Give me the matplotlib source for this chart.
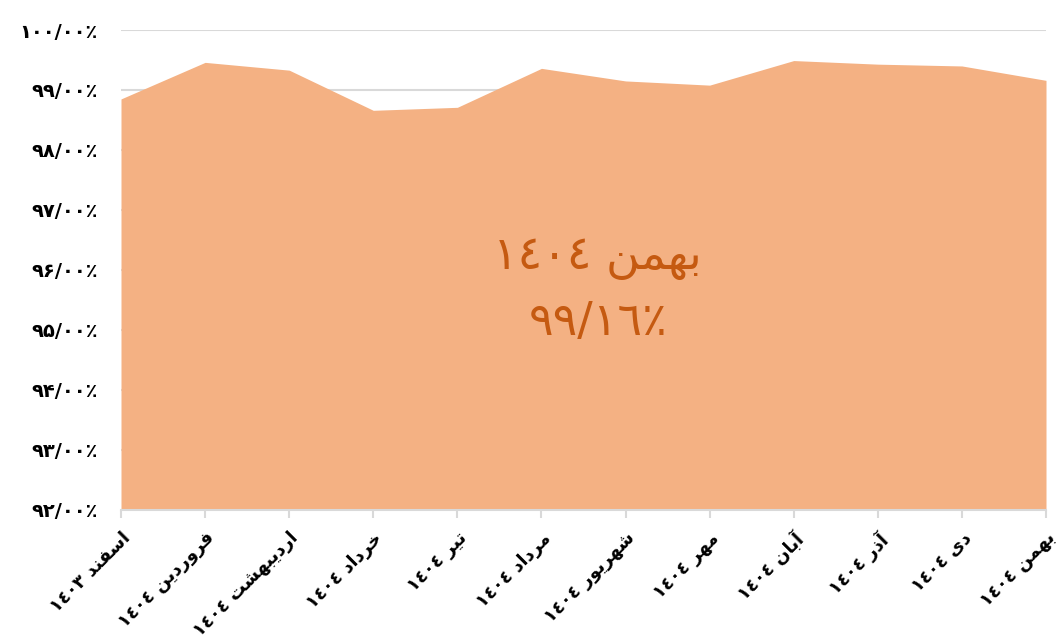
import matplotlib
matplotlib.use("Agg")
import matplotlib.pyplot as plt

# monthly values (percent)
months = ["اسفند", "فروردین", "اردیبهشت", "خرداد", "تیر", "مرداد",
          "شهریور", "مهر", "آبان", "آذر", "دی", "بهمن"]
years = [1403, 1404, 1404, 1404, 1404, 1404, 1404, 1404, 1404, 1404, 1404, 1404]
values = [98.85, 99.46, 99.33, 98.66, 98.71, 99.36,
          99.15, 99.08, 99.49, 99.43, 99.40, 99.16]
y_ticks = [92, 93, 94, 95, 96, 97, 98, 99, 100]

FILL = "#F4B183"
TEXT_ORANGE = "#C55A11"
GRID = "#D9D9D9"

# presentation forms: isolated, final, initial, medial
FORMS = {
    "\u0622": ("\uFE81", "\uFE82", None, None),
    "\u0627": ("\uFE8D", "\uFE8E", None, None),
    "\u0628": ("\uFE8F", "\uFE90", "\uFE91", "\uFE92"),
    "\u062A": ("\uFE95", "\uFE96", "\uFE97", "\uFE98"),
    "\u062E": ("\uFEA5", "\uFEA6", "\uFEA7", "\uFEA8"),
    "\u062F": ("\uFEA9", "\uFEAA", None, None),
    "\u0630": ("\uFEAB", "\uFEAC", None, None),
    "\u0631": ("\uFEAD", "\uFEAE", None, None),
    "\u0633": ("\uFEB1", "\uFEB2", "\uFEB3", "\uFEB4"),
    "\u0634": ("\uFEB5", "\uFEB6", "\uFEB7", "\uFEB8"),
    "\u0641": ("\uFED1", "\uFED2", "\uFED3", "\uFED4"),
    "\u0645": ("\uFEE1", "\uFEE2", "\uFEE3", "\uFEE4"),
    "\u0646": ("\uFEE5", "\uFEE6", "\uFEE7", "\uFEE8"),
    "\u0647": ("\uFEE9", "\uFEEA", "\uFEEB", "\uFEEC"),
    "\u0648": ("\uFEED", "\uFEEE", None, None),
    "\u06CC": ("\uFBFC", "\uFBFD", "\uFBFE", "\uFBFF"),
}


def shape(word):
    # join letters and return them in visual (left to right) order
    out = []
    for i, ch in enumerate(word):
        f = FORMS.get(ch)
        if f is None:
            out.append(ch)
            continue
        prev = word[i - 1] if i > 0 else None
        nxt = word[i + 1] if i < len(word) - 1 else None
        jp = prev in FORMS and FORMS[prev][2] is not None
        jn = nxt in FORMS and f[2] is not None
        if jp and jn:
            out.append(f[3])
        elif jp:
            out.append(f[1])
        elif jn:
            out.append(f[2])
        else:
            out.append(f[0])
    return "".join(out)[::-1]


def arabic_digits(s):
    return s.translate(str.maketrans("0123456789", "٠١٢٣٤٥٦٧٨٩"))


def persian_digits(s):
    return s.translate(str.maketrans("0123456789", "۰۱۲۳۴۵۶۷۸۹"))


labels = [arabic_digits(str(y)) + " " + shape(m) for m, y in zip(months, years)]
x = list(range(len(values)))

fig = plt.figure(figsize=(10.56, 6.42), dpi=100)
ax = fig.add_axes([121 / 1056, 1 - 509.5 / 642, 925 / 1056, 479.5 / 642])

# gridlines sit under the area
for v in y_ticks:
    ax.axhline(v, color=GRID, lw=1.5, zorder=1)
ax.fill_between(x, values, 92, color=FILL, lw=0, zorder=2)

ax.set_xlim(0, len(values) - 1)
ax.set_ylim(92, 100)
ax.set_yticks(y_ticks)
ax.set_yticklabels([persian_digits(f"{v}/00") + "٪" for v in y_ticks],
                   fontsize=14, fontweight="bold", color="black")

ax.set_xticks(x)
ax.set_xticklabels(labels, rotation=45, ha="right", rotation_mode="anchor",
                   fontsize=13, fontweight="bold")
ax.tick_params(axis="x", length=6, color=GRID, width=1.5, pad=8)
ax.tick_params(axis="y", length=0, pad=17)

for s in ["top", "right", "left"]:
    ax.spines[s].set_visible(False)
ax.spines["bottom"].set_color(GRID)
ax.spines["bottom"].set_linewidth(1.5)
ax.spines["bottom"].set_zorder(3)

last = values[-1]
ax.text(5.67, 96.2, arabic_digits(str(years[-1])) + " " + shape(months[-1]),
        ha="center", va="center", fontsize=33, color=TEXT_ORANGE)
ax.text(5.67, 95.12, arabic_digits(f"{last:.2f}".replace(".", "/")) + "٪",
        ha="center", va="center", fontsize=33, color=TEXT_ORANGE)

fig.savefig("out.png", dpi=100)
